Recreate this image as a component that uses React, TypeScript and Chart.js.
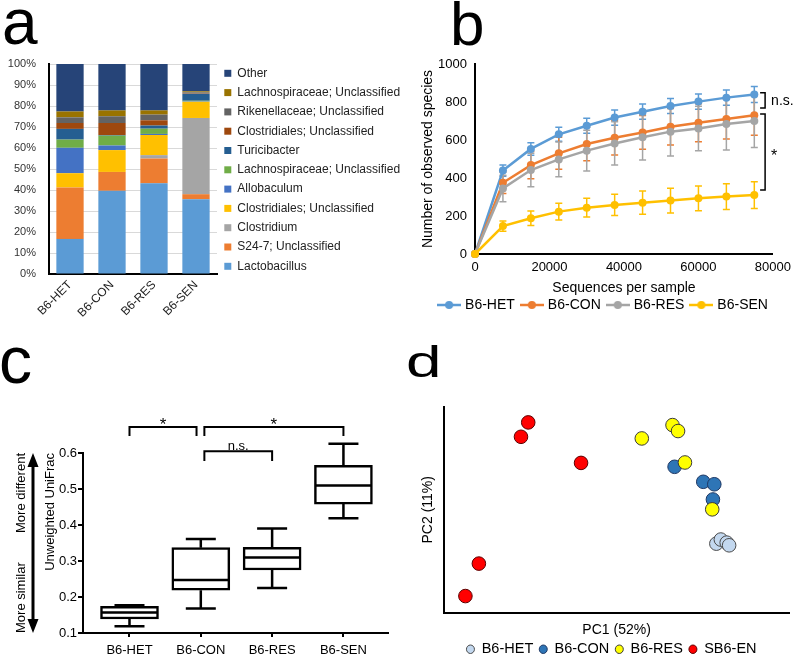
import React, { useEffect, useRef } from "react";
import { Chart, registerables } from "chart.js";

Chart.register(...registerables);

const FONT = "'Liberation Sans', Arial, Helvetica, sans-serif";
Chart.defaults.font.family = FONT;
Chart.defaults.color = "#000";

// ===== Panel a: relative abundance (%) =====
const groupsA = ["B6-HET", "B6-CON", "B6-RES", "B6-SEN"];
const taxaA = [
  "Lactobacillus",
  "S24-7; Unclassified",
  "Clostridium",
  "Clostridiales; Unclassified",
  "Allobaculum",
  "Lachnospiraceae; Unclassified",
  "Turicibacter",
  "Clostridiales; Unclassified",
  "Rikenellaceae; Unclassified",
  "Lachnospiraceae; Unclassified",
  "Other",
];
const lactobacillusA = [16.7, 39.6, 43.2, 35.6];
const s247A = [24.5, 9.0, 11.8, 2.4];
const clostridiumA = [0, 0, 1.6, 36.3];
const clostridialesA = [6.8, 10.4, 9.6, 7.7];
const allobaculumA = [12.1, 2.2, 0.5, 0.2];
const lachnoA = [3.9, 4.7, 2.5, 0.3];
const turicibacterA = [5.1, 0.3, 1.5, 3.3];
const clostridiales2A = [2.8, 5.7, 2.5, 0.2];
const rikenellaceaeA = [2.7, 3.2, 2.7, 0.5];
const lachno2A = [2.8, 2.8, 2.0, 0.5];
const otherA = [22.6, 22.1, 22.1, 13.0];
const valuesA = [
  lactobacillusA, s247A, clostridiumA, clostridialesA, allobaculumA, lachnoA,
  turicibacterA, clostridiales2A, rikenellaceaeA, lachno2A, otherA,
];
const colorsA = [
  "#5B9BD5", "#ED7D31", "#A5A5A5", "#FFC000", "#4472C4", "#70AD47",
  "#255E91", "#9E480E", "#636363", "#997300", "#264478",
];

// ===== Panel b: rarefaction =====
const seqB = [0, 7500, 15000, 22500, 30000, 37500, 45000, 52500, 60000, 67500, 75000];
const namesB = ["B6-HET", "B6-CON", "B6-RES", "B6-SEN"];
const colorsB = ["#5B9BD5", "#ED7D31", "#A5A5A5", "#FFC000"];
const hetB = [0, 439, 553, 630, 675, 718, 749, 779, 802, 823, 840];
const hetErrB = [0, 30, 33, 37, 39, 40, 40, 40, 40, 40, 42];
const conB = [0, 375, 468, 530, 579, 612, 640, 670, 691, 710, 730];
const conErrB = [0, 56, 72, 84, 88, 91, 89, 96, 100, 105, 105];
const resB = [0, 345, 442, 498, 544, 582, 614, 644, 661, 684, 700];
const resErrB = [0, 70, 88, 91, 107, 114, 119, 128, 117, 137, 140];
const senB = [0, 147, 188, 223, 244, 258, 270, 281, 293, 302, 310];
const senErrB = [0, 27, 38, 44, 49, 56, 61, 65, 65, 68, 70];
const bracketsB = [
  { x: 77900, from: 849, to: 768, label: "n.s.", dy: 1 },
  { x: 77900, from: 737, to: 337, label: "*", dy: 5 },
];

// ===== Panel c: UniFrac box plots =====
const groupsC = ["B6-HET", "B6-CON", "B6-RES", "B6-SEN"];
const minC = [0.119, 0.168, 0.225, 0.419];
const q1C = [0.139, 0.219, 0.275, 0.458];
const medC = [0.157, 0.247, 0.31, 0.51];
const q3C = [0.174, 0.337, 0.338, 0.566];
const maxC = [0.177, 0.361, 0.39, 0.626];
const bracketsC = [
  { x1: 1, x2: 1.94, y: 0.672, leg: 0.647, label: "*" },
  { x1: 2.05, x2: 4, y: 0.672, leg: 0.647, label: "*" },
  { x1: 2.05, x2: 3, y: 0.605, leg: 0.578, label: "n.s." },
];

// ===== Panel d: PCoA =====
const pc1Het = [78.9, 80.2, 81.9, 82.6];
const pc2Het = [33.5, 35.5, 34.0, 32.7];
const pc1Con = [66.8, 75.1, 78.3, 77.9];
const pc2Con = [70.9, 63.6, 62.4, 55.0];
const pc1Res = [57.3, 66.2, 67.8, 69.8, 77.7];
const pc2Res = [84.7, 91.2, 88.3, 73.0, 50.2];
const pc1Sen = [24.4, 22.3, 39.7, 10.1, 6.2];
const pc2Sen = [92.5, 85.5, 72.8, 23.8, 8.0];
const namesD = ["B6-HET", "B6-CON", "B6-RES", "SB6-EN"];
const fillD = ["#C3D8EF", "#2E75B6", "#FFFF00", "#FF0000"];
const edgeD = ["#4a4a4a", "#1F3864", "#3a3a3a", "#5a0000"];

function letter(text: string, x: number, y: number, size: number, sx = 1) {
  return {
    id: "panelLetter",
    afterDraw(chart: any) {
      const c = chart.ctx;
      c.save();
      c.font = `${size}px ${FONT}`;
      c.fillStyle = "#000";
      c.textAlign = "left";
      c.textBaseline = "alphabetic";
      c.translate(x, y);
      c.scale(sx, 1);
      c.fillText(text, 0, 0);
      c.restore();
    },
  };
}

function makeIcon(color: string) {
  const c = document.createElement("canvas");
  c.width = 24;
  c.height = 10;
  const g = c.getContext("2d")!;
  g.strokeStyle = color;
  g.lineWidth = 2.5;
  g.beginPath();
  g.moveTo(0, 5);
  g.lineTo(24, 5);
  g.stroke();
  g.fillStyle = color;
  g.beginPath();
  g.arc(12, 5, 4, 0, Math.PI * 2);
  g.fill();
  return c;
}

function chartA(cv: HTMLCanvasElement) {
  return new Chart(cv, {
    type: "bar",
    data: {
      labels: groupsA,
      datasets: taxaA.map((t, i) => ({
        label: t,
        data: valuesA[i],
        backgroundColor: colorsA[i],
        borderWidth: 0,
        barPercentage: 0.65,
        categoryPercentage: 1,
      })),
    },
    options: {
      animation: false,
      responsive: false,
      devicePixelRatio: 1,
      layout: { padding: { left: 0, right: 3, top: 60, bottom: 0 } },
      plugins: {
        title: { display: true, text: "", padding: 0, font: { size: 4, lineHeight: 1 } },
        tooltip: { enabled: false },
        legend: {
          position: "right",
          align: "start",
          reverse: true,
          maxWidth: 185,
          labels: {
            boxWidth: 7,
            boxHeight: 7,
            padding: 7.3,
            color: "#222",
            font: { size: 12, family: FONT },
          },
        },
      },
      scales: {
        x: {
          stacked: true,
          grid: { display: false, drawTicks: false },
          border: { display: true, color: "#000", width: 2 },
          ticks: { minRotation: 45, maxRotation: 45, padding: 4, color: "#222", font: { size: 12 } },
          afterFit: (s: any) => {
            s.height = 71;
          },
        },
        y: {
          stacked: true,
          min: 0,
          max: 100,
          grid: { color: "#D9D9D9", drawTicks: false },
          border: { display: true, color: "#000", width: 2 },
          ticks: { stepSize: 10, padding: 13, color: "#333", font: { size: 11 }, callback: (v: any) => v + "%" },
          afterFit: (s: any) => {
            s.width = 49;
          },
        },
      },
    } as any,
    plugins: [letter("a", 2, 44, 64)],
  });
}

function chartB(cv: HTMLCanvasElement) {
  const series = namesB.map((n, i) => ({
    name: n,
    color: colorsB[i],
    values: [hetB, conB, resB, senB][i],
    err: [hetErrB, conErrB, resErrB, senErrB][i],
  }));
  const icons = colorsB.map(makeIcon);
  const errorBars = {
    id: "errorBars",
    beforeDatasetsDraw(chart: any) {
      const { ctx, scales } = chart;
      const xs = scales.x;
      const ys = scales.y;
      series.forEach((s) => {
        ctx.save();
        ctx.strokeStyle = s.color;
        ctx.lineWidth = 1.5;
        ctx.beginPath();
        seqB.forEach((sx, i) => {
          const e = s.err[i];
          if (!e) return;
          const px = xs.getPixelForValue(sx);
          const t = ys.getPixelForValue(s.values[i] + e);
          const b = ys.getPixelForValue(s.values[i] - e);
          ctx.moveTo(px, t);
          ctx.lineTo(px, b);
          ctx.moveTo(px - 3.5, t);
          ctx.lineTo(px + 3.5, t);
          ctx.moveTo(px - 3.5, b);
          ctx.lineTo(px + 3.5, b);
        });
        ctx.stroke();
        ctx.restore();
      });
    },
    afterDraw(chart: any) {
      const { ctx, scales } = chart;
      ctx.save();
      ctx.strokeStyle = "#000";
      ctx.fillStyle = "#000";
      ctx.lineWidth = 1.5;
      ctx.textAlign = "left";
      ctx.textBaseline = "middle";
      bracketsB.forEach((b) => {
        const px = scales.x.getPixelForValue(b.x);
        const p1 = scales.y.getPixelForValue(b.from);
        const p2 = scales.y.getPixelForValue(b.to);
        ctx.beginPath();
        ctx.moveTo(px - 5, p1);
        ctx.lineTo(px, p1);
        ctx.lineTo(px, p2);
        ctx.lineTo(px - 5, p2);
        ctx.stroke();
        ctx.font = b.label === "*" ? `16px ${FONT}` : `14px ${FONT}`;
        ctx.fillText(b.label, px + 6, (p1 + p2) / 2 + b.dy);
      });
      ctx.restore();
    },
  };
  return new Chart(cv, {
    type: "line",
    data: {
      datasets: series.map((s, i) => ({
        label: s.name,
        data: seqB.map((x, j) => ({ x, y: s.values[j] })),
        borderColor: s.color,
        backgroundColor: s.color,
        pointBackgroundColor: s.color,
        pointBorderWidth: 0,
        pointRadius: 4,
        borderWidth: 2.5,
        tension: 0,
        clip: false,
        order: 3 - i,
      })),
    },
    options: {
      animation: false,
      responsive: false,
      devicePixelRatio: 1,
      layout: { padding: { left: 26, right: 20, top: 64, bottom: 23 } },
      plugins: {
        tooltip: { enabled: false },
        legend: {
          position: "bottom",
          labels: {
            usePointStyle: true,
            pointStyleWidth: 18,
            padding: 8,
            color: "#000",
            font: { size: 14 },
            generateLabels: (chart: any) => {
              const items = (Chart.defaults.plugins.legend.labels as any).generateLabels(chart);
              return items
                .sort((a: any, b: any) => a.datasetIndex - b.datasetIndex)
                .map((it: any) => ({ ...it, pointStyle: icons[it.datasetIndex] }));
            },
          },
        },
      },
      scales: {
        x: {
          type: "linear",
          min: 0,
          max: 80000,
          grid: { display: false, drawTicks: false },
          border: { display: true, color: "#000", width: 2 },
          ticks: { stepSize: 20000, padding: 6, font: { size: 13 }, callback: (v: any) => String(v) },
          title: { display: true, text: "Sequences per sample", font: { size: 14 }, padding: { top: 0, bottom: -6.4 } },
          afterFit: (s: any) => {
            s.height = 36;
          },
        },
        y: {
          type: "linear",
          min: 0,
          max: 1000,
          grid: { display: false, drawTicks: false },
          border: { display: true, color: "#000", width: 2 },
          ticks: { stepSize: 200, padding: 8, font: { size: 13 }, callback: (v: any) => String(v) },
          title: { display: true, text: "Number of observed species", font: { size: 14 }, padding: { top: -11.4, bottom: 0 } },
          afterFit: (s: any) => {
            s.width = 44;
          },
        },
      },
    } as any,
    plugins: [errorBars, letter("b", 45, 45, 62)],
  });
}

function chartC(cv: HTMLCanvasElement) {
  const extras = {
    id: "boxExtras",
    afterDatasetsDraw(chart: any) {
      const { ctx, scales } = chart;
      const x = scales.x;
      const y = scales.y;
      ctx.save();
      ctx.strokeStyle = "#000";
      ctx.lineWidth = 2.5;
      groupsC.forEach((g, i) => {
        const px = x.getPixelForValue(i + 1);
        const cap = 15;
        const half = 28;
        const pMax = y.getPixelForValue(maxC[i]);
        const pMin = y.getPixelForValue(minC[i]);
        ctx.beginPath();
        ctx.moveTo(px, y.getPixelForValue(q3C[i]));
        ctx.lineTo(px, pMax);
        ctx.moveTo(px - cap, pMax);
        ctx.lineTo(px + cap, pMax);
        ctx.moveTo(px, y.getPixelForValue(q1C[i]));
        ctx.lineTo(px, pMin);
        ctx.moveTo(px - cap, pMin);
        ctx.lineTo(px + cap, pMin);
        const pMed = y.getPixelForValue(medC[i]);
        ctx.moveTo(px - half, pMed);
        ctx.lineTo(px + half, pMed);
        ctx.stroke();
      });
      ctx.restore();
    },
    afterDraw(chart: any) {
      const { ctx, scales, chartArea } = chart;
      const x = scales.x;
      const y = scales.y;
      ctx.save();
      ctx.strokeStyle = "#000";
      ctx.fillStyle = "#000";
      ctx.lineWidth = 2;
      ctx.textAlign = "center";
      ctx.textBaseline = "alphabetic";
      bracketsC.forEach((b) => {
        const x1 = x.getPixelForValue(b.x1);
        const x2 = x.getPixelForValue(b.x2);
        const yt = y.getPixelForValue(b.y);
        const yl = y.getPixelForValue(b.leg);
        ctx.beginPath();
        ctx.moveTo(x1, yl);
        ctx.lineTo(x1, yt);
        ctx.lineTo(x2, yt);
        ctx.lineTo(x2, yl);
        ctx.stroke();
        const star = b.label === "*";
        ctx.font = star ? `17px ${FONT}` : `13px ${FONT}`;
        ctx.fillText(b.label, (x1 + x2) / 2, yt + (star ? 3 : -1.5));
      });
      // similarity arrow
      const top = y.getPixelForValue(0.6);
      const bot = y.getPixelForValue(0.1);
      const ax = chartArea.left - 50;
      ctx.lineWidth = 3;
      ctx.beginPath();
      ctx.moveTo(ax, top + 10);
      ctx.lineTo(ax, bot - 10);
      ctx.stroke();
      ctx.beginPath();
      ctx.moveTo(ax, top);
      ctx.lineTo(ax - 5.5, top + 14);
      ctx.lineTo(ax + 5.5, top + 14);
      ctx.closePath();
      ctx.moveTo(ax, bot);
      ctx.lineTo(ax - 5.5, bot - 14);
      ctx.lineTo(ax + 5.5, bot - 14);
      ctx.closePath();
      ctx.fill();
      ctx.font = `13px ${FONT}`;
      ctx.textBaseline = "middle";
      ctx.save();
      ctx.translate(ax - 12, top);
      ctx.rotate(-Math.PI / 2);
      ctx.textAlign = "right";
      ctx.fillText("More different", 0, 0);
      ctx.restore();
      ctx.save();
      ctx.translate(ax - 12, bot);
      ctx.rotate(-Math.PI / 2);
      ctx.textAlign = "left";
      ctx.fillText("More similar", 0, 0);
      ctx.restore();
      ctx.restore();
    },
  };
  return new Chart(cv, {
    type: "bar",
    data: {
      datasets: [
        {
          label: "IQR",
          data: groupsC.map((g, i) => ({ x: i + 1, y: [q1C[i], q3C[i]] })),
          backgroundColor: "#fff",
          borderColor: "#000",
          borderWidth: 2.5,
          borderSkipped: false,
          barThickness: 58,
        },
      ],
    },
    options: {
      animation: false,
      responsive: false,
      devicePixelRatio: 1,
      layout: { padding: { left: 40, right: 12, top: 108, bottom: 0 } },
      plugins: { legend: { display: false }, tooltip: { enabled: false } },
      scales: {
        x: {
          type: "linear",
          min: 0.348,
          max: 4.625,
          offset: false,
          grid: { offset: false, drawOnChartArea: false, drawTicks: true, tickLength: 4, color: "#000", lineWidth: 2 },
          border: { display: true, color: "#000", width: 2 },
          afterBuildTicks: (s: any) => {
            s.ticks = groupsC.map((g, i) => ({ value: i + 1 }));
          },
          ticks: { padding: 6, font: { size: 13 }, callback: (v: any) => groupsC[Math.round(v) - 1] ?? "" },
          afterFit: (s: any) => {
            s.height = 23;
          },
        },
        y: {
          type: "linear",
          min: 0.1,
          max: 0.6,
          grid: { drawOnChartArea: false, drawTicks: true, tickLength: 5, color: "#000", lineWidth: 2 },
          border: { display: true, color: "#000", width: 2 },
          ticks: { stepSize: 0.1, padding: 1, font: { size: 13 }, callback: (v: any) => Number(v).toFixed(1) },
          title: { display: true, text: "Unweighted UniFrac", align: "end", font: { size: 13 }, padding: { top: 2.2, bottom: 0 } },
          afterFit: (s: any) => {
            s.width = 43;
          },
        },
      },
    } as any,
    plugins: [extras, letter("c", -1, 38, 66)],
  });
}

function chartD(cv: HTMLCanvasElement) {
  const xs = [pc1Het, pc1Con, pc1Res, pc1Sen];
  const ys = [pc2Het, pc2Con, pc2Res, pc2Sen];
  return new Chart(cv, {
    type: "scatter",
    data: {
      datasets: namesD.map((n, i) => ({
        label: n,
        data: xs[i].map((x, j) => ({ x, y: ys[i][j] })),
        backgroundColor: fillD[i],
        borderColor: edgeD[i],
        borderWidth: 1,
        pointRadius: 6.8,
        pointHoverRadius: 6.8,
        clip: false,
        order: 3 - i,
      })),
    },
    options: {
      animation: false,
      responsive: false,
      devicePixelRatio: 1,
      layout: { padding: { left: 30, right: 4, top: 62, bottom: 8.5 } },
      plugins: {
        tooltip: { enabled: false },
        legend: {
          position: "bottom",
          labels: {
            usePointStyle: true,
            pointStyleWidth: 8,
            boxHeight: 6,
            padding: 6,
            color: "#000",
            font: { size: 14.5 },
            sort: (a: any, b: any) => a.datasetIndex - b.datasetIndex,
          },
        },
      },
      scales: {
        x: {
          type: "linear",
          min: 0,
          max: 100,
          ticks: { display: false },
          grid: { display: false, drawTicks: false },
          border: { display: true, color: "#000", width: 2 },
          title: { display: true, text: "PC1 (52%)", font: { size: 14 }, padding: { top: 0, bottom: -2.4 } },
          afterFit: (s: any) => {
            s.height = 23.5;
          },
        },
        y: {
          type: "linear",
          min: 0,
          max: 100,
          ticks: { display: false },
          grid: { display: false, drawTicks: false },
          border: { display: true, color: "#000", width: 2 },
          title: { display: true, text: "PC2 (11%)", font: { size: 14 }, padding: { top: -10.4, bottom: 0 } },
          afterFit: (s: any) => {
            s.width = 14;
          },
        },
      },
    } as any,
    plugins: [letter("d", 6, 32, 44, 1.45)],
  });
}

export default function App() {
  const refA = useRef<HTMLCanvasElement>(null);
  const refB = useRef<HTMLCanvasElement>(null);
  const refC = useRef<HTMLCanvasElement>(null);
  const refD = useRef<HTMLCanvasElement>(null);

  useEffect(() => {
    const charts = [
      chartA(refA.current!),
      chartB(refB.current!),
      chartC(refC.current!),
      chartD(refD.current!),
    ];
    return () => charts.forEach((c) => c.destroy());
  }, []);

  const abs = (left: number, top: number) => ({ position: "absolute" as const, left, top });

  return (
    <div
      style={{
        position: "fixed",
        left: 0,
        top: 0,
        width: 797,
        height: 656,
        overflow: "hidden",
        background: "#fff",
      }}
    >
      <canvas ref={refA} width={405} height={345} style={abs(0, 0)} />
      <canvas ref={refB} width={392} height={345} style={abs(405, 0)} />
      <canvas ref={refC} width={400} height={311} style={abs(0, 345)} />
      <canvas ref={refD} width={397} height={330} style={abs(400, 345)} />
    </div>
  );
}
